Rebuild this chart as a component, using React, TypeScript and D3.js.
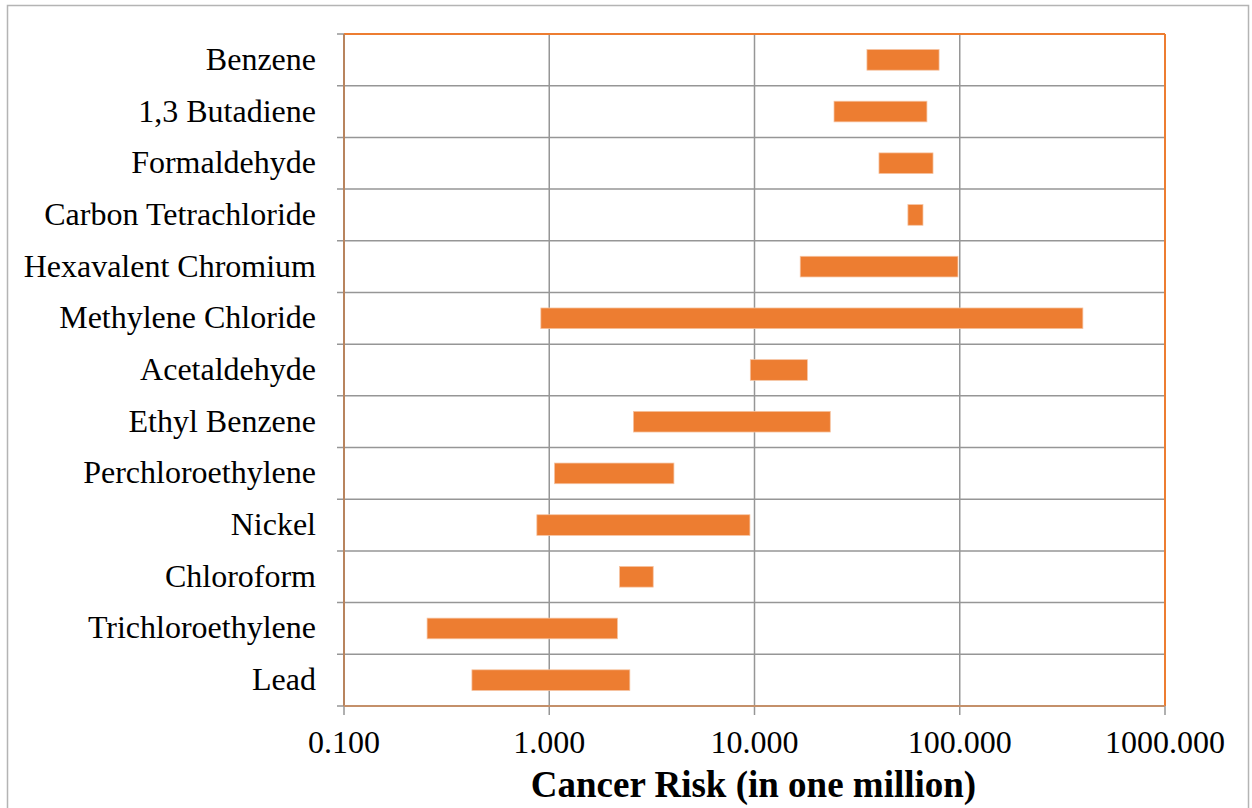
import React from "react";
import * as d3 from "d3";

const categories = [
  "Benzene",
  "1,3 Butadiene",
  "Formaldehyde",
  "Carbon Tetrachloride",
  "Hexavalent Chromium",
  "Methylene Chloride",
  "Acetaldehyde",
  "Ethyl Benzene",
  "Perchloroethylene",
  "Nickel",
  "Chloroform",
  "Trichloroethylene",
  "Lead",
];
const lowValues = [35.3, 24.4, 40.4, 55.9, 16.7, 0.91, 9.54, 2.57, 1.06, 0.87, 2.2, 0.254, 0.42];
const highValues = [79.3, 69.2, 74.1, 66.2, 98.0, 398, 18.1, 23.4, 4.05, 9.5, 3.21, 2.15, 2.47];
const xTicks = [0.1, 1, 10, 100, 1000];
const xTickLabels = ["0.100", "1.000", "10.000", "100.000", "1000.000"];
const xTitle = "Cancer Risk (in one million)";

const W = 1252;
const H = 808;
const L = 344, R = 1165, T = 34, B = 706;
const FONT = "'Liberation Serif', 'Times New Roman', serif";
const ORANGE = "#ED7D31";
const GRID = "#969696";

export default function App() {
  const x = d3.scaleLog().domain([0.1, 1000]).range([L, R]);
  const y = d3.scaleBand<string>().domain(categories).range([T, B]).paddingInner(0.6).paddingOuter(0.3);
  const step = y.step();
  const boundaries = d3.range(categories.length + 1).map((i) => T + i * step);

  return (
    <svg width={W} height={H} style={{ position: "absolute", left: 0, top: 0, background: "#fff" }}>
      <rect x={7.5} y={5.5} width={1241} height={H} fill="none" stroke="#b4b4b4" strokeWidth={1.5} />
      {boundaries.map((b, i) => (
        <line key={"h" + i} x1={337} x2={R} y1={b} y2={b} stroke={GRID} strokeWidth={1.5} />
      ))}
      {xTicks.map((t, i) => (
        <line key={"v" + i} x1={x(t)} x2={x(t)} y1={T} y2={B + 9} stroke={GRID} strokeWidth={1.5} />
      ))}
      <line x1={L} x2={R} y1={T} y2={T} stroke={ORANGE} strokeWidth={2} />
      <line x1={R} x2={R} y1={T} y2={B} stroke={ORANGE} strokeWidth={2} />
      <line x1={L} x2={L} y1={T} y2={B} stroke="#B8845E" strokeWidth={2} />
      <line x1={L} x2={R} y1={B} y2={B} stroke="#C4906A" strokeWidth={2} />
      {categories.map((c, i) => (
        <rect
          key={c}
          x={x(lowValues[i])}
          y={y(c)}
          width={x(highValues[i]) - x(lowValues[i])}
          height={y.bandwidth()}
          fill={ORANGE}
          stroke="#F6C4A2"
          strokeWidth={0.75}
        />
      ))}
      {categories.map((c) => (
        <text
          key={"l" + c}
          x={316}
          y={(y(c) as number) + y.bandwidth() / 2 + 10}
          textAnchor="end"
          fontFamily={FONT}
          fontSize={32}
          fill="#000"
        >
          {c}
        </text>
      ))}
      {xTicks.map((t, i) => (
        <text key={"t" + i} x={x(t)} y={753} textAnchor="middle" fontFamily={FONT} fontSize={32} fill="#000">
          {xTickLabels[i]}
        </text>
      ))}
      <text x={(L + R) / 2 - 1} y={797} textAnchor="middle" fontFamily={FONT} fontSize={37} fontWeight="bold" fill="#000">
        {xTitle}
      </text>
    </svg>
  );
}
